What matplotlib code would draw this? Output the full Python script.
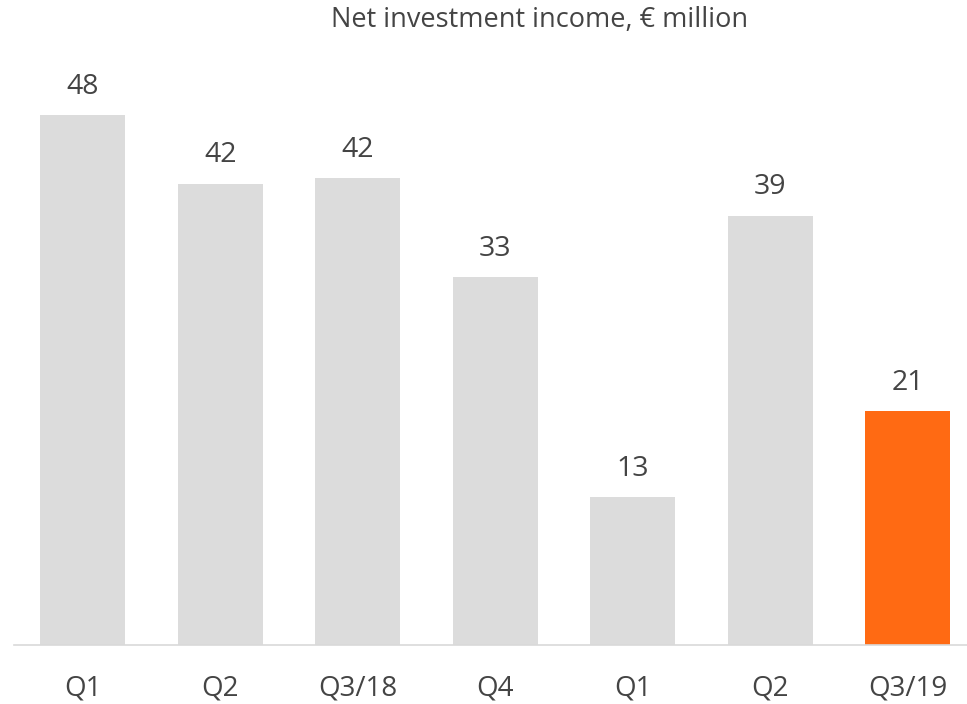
import matplotlib.pyplot as plt

categories = ["Q1", "Q2", "Q3/18", "Q4", "Q1", "Q2", "Q3/19"]
values = [48.0, 41.8, 42.3, 33.3, 13.4, 38.9, 21.2]
highlight = "Q3/19"

GREY = "#dcdcdc"
ORANGE = "#ff6a13"
TEXT = "#444444"

plt.rcParams["font.family"] = ["Open Sans", "DejaVu Sans"]

fig = plt.figure(figsize=(9.67, 7.04), dpi=100)
# axes spans from the baseline (y=645px) up to y=45px, x from 14px to the right edge
ax = fig.add_axes([14 / 967, 59 / 704, 953 / 967, 600 / 704])

x = list(range(len(categories)))
colors = [ORANGE if c == highlight and i == len(categories) - 1 else GREY
          for i, c in enumerate(categories)]
bars = ax.bar(x, values, width=0.62, color=colors, zorder=2)

for rect, v in zip(bars, values):
    ax.text(rect.get_x() + rect.get_width() / 2, v + 1.3, f"{v:.0f}",
            ha="center", va="bottom", fontsize=20.5, color=TEXT)

ax.set_xlim(-0.5, 6.43)
ax.set_ylim(0, 600 / 11.04)

for side in ["top", "right", "left"]:
    ax.spines[side].set_visible(False)
ax.spines["bottom"].set_color("#d9d9d9")
ax.spines["bottom"].set_linewidth(1.2)
ax.set_yticks([])
ax.set_xticks(x)
ax.set_xticklabels(categories, fontsize=20, color=TEXT)
ax.tick_params(axis="x", length=0, pad=21)

fig.text(540 / 967, 1 - 20 / 704, "Net investment income, € million",
         ha="center", va="center", fontsize=19.5, color=TEXT)

fig.savefig("out.png", dpi=100)
